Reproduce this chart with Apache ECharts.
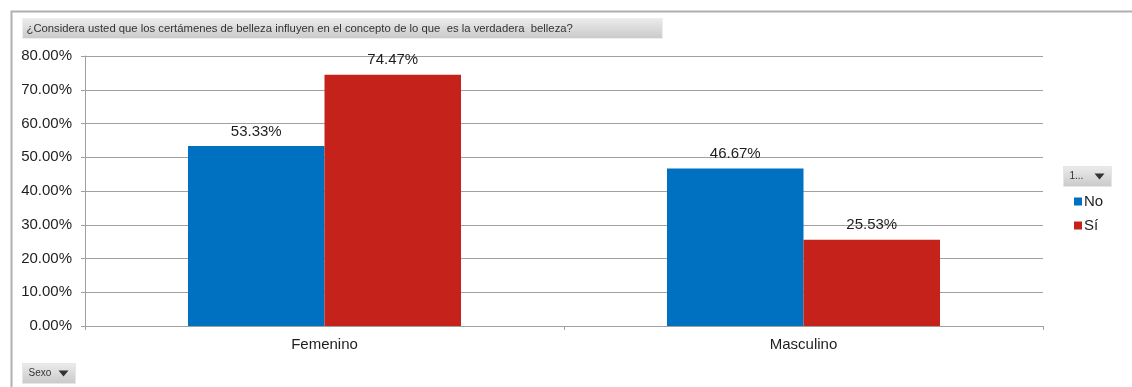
<!DOCTYPE html>
<html>
<head>
<meta charset="utf-8">
<script src="https://cdn.jsdelivr.net/npm/echarts@6/dist/echarts.min.js"></script>
<style>
  html, body { margin: 0; padding: 0; background: #fff; }
  #chart { width: 1132px; height: 387px; }
</style>
</head>
<body>
<div id="chart"></div>
<script>
// Survey result: share of answers by sex
const categories = ['Femenino', 'Masculino'];
const seriesNames = ['No', 'Sí'];
const valuesNo = [53.33, 46.67];
const valuesSi = [74.47, 25.53];
const yTicks = { min: 0, max: 80, interval: 10 };
const titleText = '¿Considera usted que los certámenes de belleza influyen en el concepto de lo que  es la verdadera  belleza?';

const FONT = '"Liberation Sans", Arial, sans-serif';
const TEXT = '#1e1e1e';
const pct = v => Number(v).toFixed(2) + '%';

const chart = echarts.init(document.getElementById('chart'));

const buttonFill = new echarts.graphic.LinearGradient(0, 0, 0, 1, [
  { offset: 0, color: '#ececec' },
  { offset: 1, color: '#c9c9c9' }
]);

function dropButton(x, y, w, h, label) {
  return {
    type: 'group', left: x, top: y,
    children: [
      { type: 'rect', shape: { x: 0, y: 0, width: w, height: h },
        style: { fill: buttonFill, stroke: '#e6e6e6', lineWidth: 1 } },
      { type: 'text', x: 6, y: h / 2,
        style: { text: label, fill: '#333', font: '10px ' + FONT, verticalAlign: 'middle' } },
      { type: 'polygon', shape: { points: [[w - 17, h / 2 - 3], [w - 7, h / 2 - 3], [w - 12, h / 2 + 3]] },
        style: { fill: '#333' } }
    ]
  };
}

const barLabel = {
  show: true, position: 'top', distance: 7,
  color: TEXT, fontFamily: FONT, fontSize: 15,
  formatter: p => pct(p.value)
};

chart.setOption({
  animation: false,
  color: ['#0070C0', '#C4221A'],
  grid: { left: 85, right: 89, top: 56, bottom: 61, containLabel: false },
  legend: {
    orient: 'vertical', left: 1069, top: 189,
    icon: 'rect', itemWidth: 8, itemHeight: 8, itemGap: 9,
    textStyle: { fontFamily: FONT, fontSize: 15, color: TEXT, padding: [0, 0, 0, -3] },
    data: seriesNames
  },
  xAxis: {
    type: 'category', data: categories,
    axisLine: { lineStyle: { color: '#a0a0a0', width: 1 } },
    axisTick: { show: true, alignWithLabel: false, length: 4, lineStyle: { color: '#a0a0a0' } },
    axisLabel: { color: TEXT, fontFamily: FONT, fontSize: 15, margin: 11 }
  },
  yAxis: {
    type: 'value', min: yTicks.min, max: yTicks.max, interval: yTicks.interval,
    axisLine: { show: true, lineStyle: { color: '#a0a0a0', width: 1 } },
    axisTick: { show: true, length: 4, lineStyle: { color: '#a0a0a0' } },
    splitLine: { lineStyle: { color: '#a0a0a0', width: 1 } },
    axisLabel: { color: TEXT, fontFamily: FONT, fontSize: 15, margin: 13, formatter: v => pct(v) }
  },
  series: [
    { name: seriesNames[0], type: 'bar', data: valuesNo, barGap: '0%', barCategoryGap: '43%', label: barLabel },
    { name: seriesNames[1], type: 'bar', data: valuesSi, barGap: '0%', barCategoryGap: '43%', label: barLabel }
  ],
  graphic: [
    // pivot chart frame
    { type: 'rect', left: 9, top: 9, shape: { x: 0, y: 0, width: 1200, height: 500 },
      style: { fill: 'none', stroke: '#b0b0b0', lineWidth: 2 }, silent: true },
    // title bar
    { type: 'group', left: 22, top: 18, children: [
      { type: 'rect', shape: { x: 0, y: 0, width: 640, height: 20 },
        style: { fill: buttonFill, stroke: '#eeeeee', lineWidth: 1 } },
      { type: 'text', x: 4, y: 10,
        style: { text: titleText, fill: '#333', font: '11.3px ' + FONT, verticalAlign: 'middle' } }
    ] },
    dropButton(1063, 166, 48, 20, '1...'),
    dropButton(22, 363, 53, 20, 'Sexo')
  ]
});
</script>
</body>
</html>
